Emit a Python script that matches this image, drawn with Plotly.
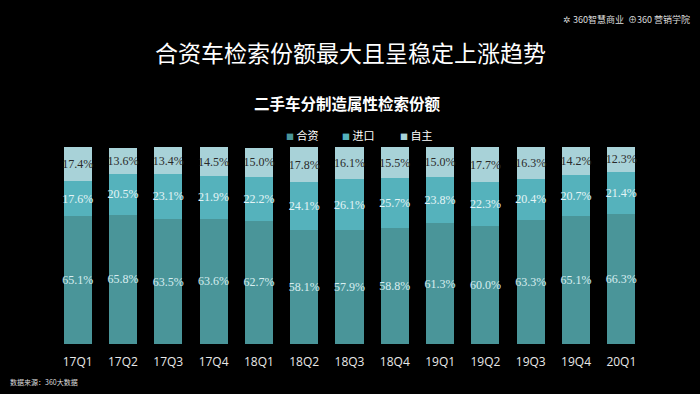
import plotly.graph_objects as go

categories = ["17Q1", "17Q2", "17Q3", "17Q4", "18Q1", "18Q2", "18Q3", "18Q4",
              "19Q1", "19Q2", "19Q3", "19Q4", "20Q1"]
jv = [65.1, 65.8, 63.5, 63.6, 62.7, 58.1, 57.9, 58.8, 61.3, 60.0, 63.3, 65.1, 66.3]
imported = [17.6, 20.5, 23.1, 21.9, 22.2, 24.1, 26.1, 25.7, 23.8, 22.3, 20.4, 20.7, 21.4]
domestic = [17.4, 13.6, 13.4, 14.5, 15.0, 17.8, 16.1, 15.5, 15.0, 17.7, 16.3, 14.2, 12.3]

series = [
    ("合资", jv, "#4a9599", "#d8eef0"),
    ("进口", imported, "#55b2bc", "#e4f4f6"),
    ("自主", domestic, "#a8d2d8", "#2a2a2a"),
]

fig = go.Figure()
for name, vals, color, tcolor in series:
    fig.add_trace(go.Bar(
        x=categories, y=vals, name=name,
        marker=dict(color=color, line=dict(width=0)),
        text=[f"{v:.1f}%" for v in vals],
        textposition="inside", insidetextanchor="middle",
        textangle=0, constraintext="none",
        textfont=dict(family="Liberation Serif, serif", size=12, color=tcolor),
    ))

L, R, T, B = 55, 56, 147, 50
W, H = 700, 394
plot_h = H - T - B
plot_w = W - L - R
def py(ypix):
    return (H - B - ypix) / plot_h
def px(xpix):
    return (xpix - L) / plot_w

annotations = [
    dict(text="合资车检索份额最大且呈稳定上涨趋势", x=px(350), y=py(52),
         xanchor="center", yanchor="middle",
         font=dict(family="Noto Sans CJK SC", size=23, color="white")),
    dict(text="<b>二手车分制造属性检索份额</b>", x=px(347), y=py(103),
         xanchor="center", yanchor="middle",
         font=dict(family="Noto Sans CJK SC", size=15.5, color="white")),
    dict(text="数据来源：360大数据", x=px(8), y=py(382),
         xanchor="left", yanchor="middle",
         font=dict(family="Noto Sans CJK SC", size=7, color="#dddddd")),
    dict(text="✲ 360智慧商业  ⊕360 营销学院", x=px(692), y=py(19),
         xanchor="right", yanchor="middle",
         font=dict(family="Noto Sans CJK SC", size=9, color="#dddddd")),
]
legend_x = [284, 340, 398]
for (name, vals, color, tcolor), lx in zip(series, legend_x):
    annotations.append(dict(
        text=f"<span style='color:{color};font-size:8px'>■</span> {name}",
        x=px(lx), y=py(135), xanchor="left", yanchor="middle",
        font=dict(family="Noto Sans CJK SC", size=11, color="white")))
for a in annotations:
    a.update(xref="paper", yref="paper", showarrow=False)

fig.update_layout(
    barmode="stack",
    bargap=0.38,
    width=W, height=H,
    paper_bgcolor="black", plot_bgcolor="black",
    margin=dict(l=L, r=R, t=T, b=B),
    showlegend=False,
    xaxis=dict(showgrid=False, zeroline=False, showline=False,
               ticks="outside", ticklen=7, tickcolor="black",
               tickfont=dict(family="Open Sans, Noto Sans, sans-serif", size=12, color="#e8e8e8")),
    yaxis=dict(visible=False, range=[0, 100.2]),
    annotations=annotations,
)

fig.write_html("out.html", config={"displayModeBar": False},
               post_script="document.body.style.margin='0';document.body.style.padding='0';document.body.style.background='black';")
